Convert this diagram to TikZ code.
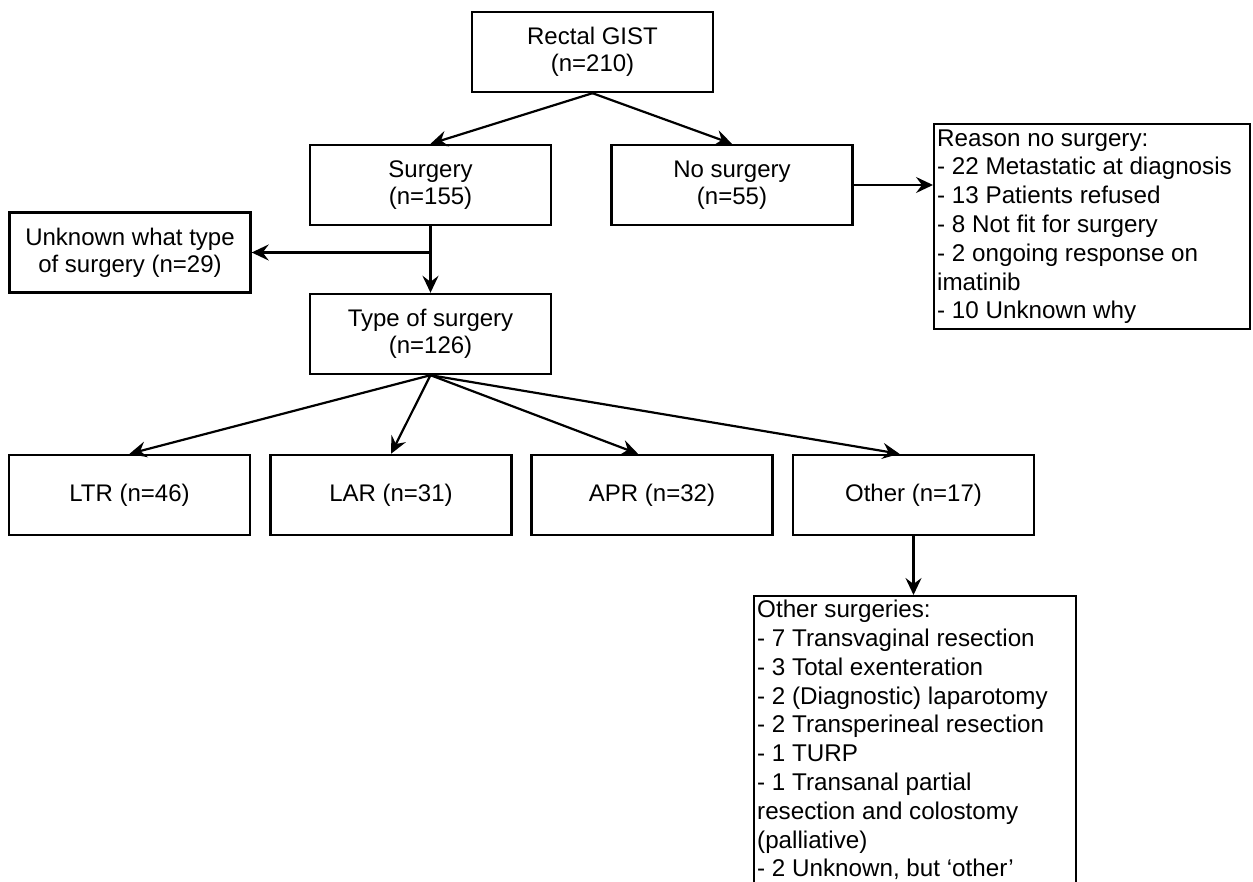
\documentclass[tikz,border=0pt]{standalone}
\usepackage{fontspec}
\setmainfont{Liberation Sans}
\usepackage{tikz}
\usetikzlibrary{calc,arrows.meta}

\begin{document}
\begin{tikzpicture}[x=0.5pt, y=-0.5pt,
		box/.style={draw, line width=1.2pt, minimum width=120.5pt, minimum height=40pt, align=center, inner sep=1pt, font=\fontsize{12}{13.6}\selectfont},
		listbox/.style={draw, line width=1.2pt, align=flush left, inner xsep=1.5pt, inner ysep=2pt, anchor=north west, font=\fontsize{12.1}{14.4}\selectfont},
		link/.style={line width=1.1pt, -{Stealth[length=8.5pt, width=8pt, inset=3pt]}}]
		%%%%% START %%%%%
		
		\useasboundingbox (0, 0) rectangle (1253, 882);
		\clip (0, 0) rectangle (1253, 882);
		
		\node[box] (gist) at (592.5, 52) {Rectal GIST\\(n=210)};
		
		\node[box] (surg) at (430.5, 185) {Surgery\\(n=155)};
		\node[box] (nosurg) at (732, 185) {No surgery\\(n=55)};
		
		\node[listbox, text width=155pt, minimum height=102.5pt] (reason) at (933, 123) {Reason no surgery:\\- 22 Metastatic at diagnosis\\- 13 Patients refused\\- 8 Not fit for surgery\\- 2 ongoing response on\\imatinib\\- 10 Unknown why};
		
		\node[box] (unknown) at (130, 252.5) {Unknown what type\\of surgery (n=29)};
		\node[box] (type) at (430.5, 334) {Type of surgery\\(n=126)};
		
		\node[box] (ltr) at (129.5, 495) {LTR (n=46)};
		\node[box] (lar) at (391, 495) {LAR (n=31)};
		\node[box] (apr) at (652, 495) {APR (n=32)};
		\node[box] (oth) at (913.5, 495) {Other (n=17)};
		
		\node[listbox, text width=158pt] (othsurg) at (753, 595) {Other surgeries:\\- 7 Transvaginal resection\\- 3 Total exenteration\\- 2 (Diagnostic) laparotomy\\- 2 Transperineal resection\\- 1 TURP\\- 1 Transanal partial\\resection and colostomy\\(palliative)\\- 2 Unknown, but `other'};
		
		\coordinate (split) at (surg.south |- unknown.east);
		
		\draw[link] (gist.south) -- (surg.north);
		\draw[link] (gist.south) -- (nosurg.north);
		\draw[link] (nosurg.east) -- (nosurg.east -| reason.west);
		
		\draw[link] (surg.south) -- (type.north);
		\draw[link] (split) -- (unknown.east);
		
		\draw[link] (type.south) -- (ltr.north);
		\draw[link] (type.south) -- (lar.north);
		\draw[link] (type.south) -- ([xshift=-7pt]apr.north);
		\draw[link] (type.south) -- ([xshift=-7pt]oth.north);
		
		\draw[link] (oth.south) -- (oth.south |- othsurg.north);
		
		%%%%% END %%%%%
	\end{tikzpicture}
\end{document}
